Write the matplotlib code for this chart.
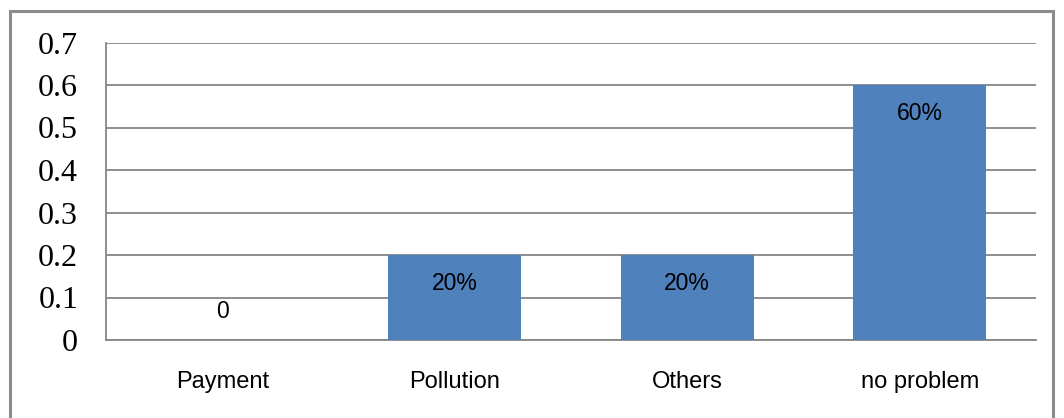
import matplotlib.pyplot as plt
from matplotlib.patches import Rectangle

categories = ["Payment", "Pollution", "Others", "no problem"]
values = [0, 0.2, 0.2, 0.6]
labels = ["0", "20%", "20%", "60%"]
yticks = [0, 0.1, 0.2, 0.3, 0.4, 0.5, 0.6, 0.7]

fig = plt.figure(figsize=(10.64, 4.18), dpi=100)
ax = fig.add_axes([106 / 1064, 1 - 340 / 418, (1036 - 106) / 1064, (340 - 42.5) / 418])

# outer chart border
fig.patches.append(Rectangle((9.5 / 1064, -0.05), (1053 - 9.5) / 1064, 1.05 - 10.5 / 418,
                             transform=fig.transFigure, fill=False,
                             edgecolor="#8c8c8c", linewidth=2.2))

x = range(len(categories))
ax.bar(x, values, width=0.57, color="#4f81bd", zorder=3)

for xi, v, lab in zip(x, values, labels):
    off = 28 if v == 0 else -29
    ax.annotate(lab, (xi, v), textcoords="offset points", xytext=(0, off * 0.72),
                ha="center", va="center", fontsize=16.5, family="Liberation Sans", zorder=4)

ax.set_xlim(-0.5, 3.5)
ax.set_ylim(0, 0.7)
ax.set_yticks(yticks)
ax.set_yticklabels([("%g" % t) for t in yticks], family="Liberation Serif", fontsize=23)
ax.set_xticks(list(x))
ax.set_xticklabels(categories, family="Liberation Sans", fontsize=17)
ax.tick_params(axis="y", length=0, pad=20)
ax.tick_params(axis="x", length=0, pad=22)
ax.grid(axis="y", color="#868686", linewidth=1.3, zorder=0)
ax.set_axisbelow(True)
for s in ["top", "right"]:
    ax.spines[s].set_visible(False)
for s in ["left", "bottom"]:
    ax.spines[s].set_color("#868686")
    ax.spines[s].set_linewidth(1.3)

fig.savefig("out.png", dpi=100)
